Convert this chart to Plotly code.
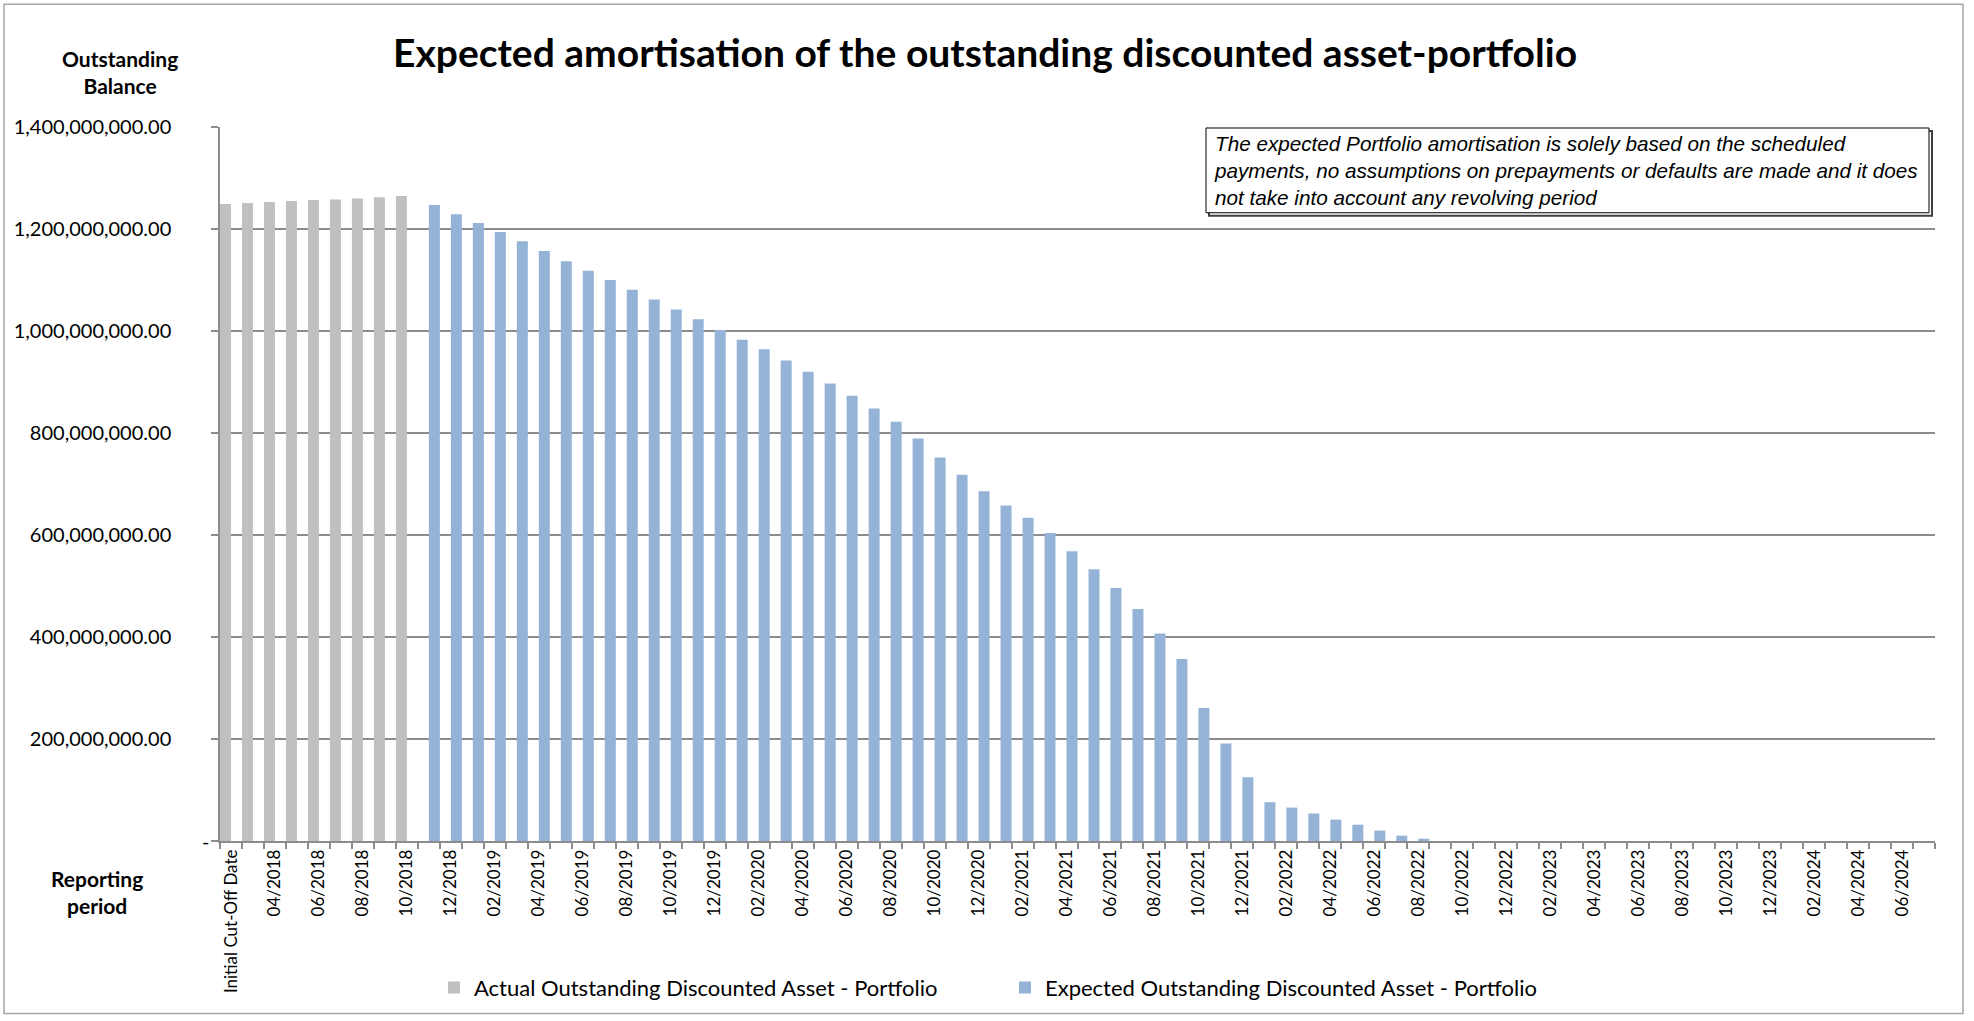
import plotly.graph_objects as go

categories = [
    "Initial Cut-Off Date", "03/2018", "04/2018", "05/2018", "06/2018", "07/2018", "08/2018", "09/2018", "10/2018",
    "11/2018", "12/2018",
    "01/2019", "02/2019", "03/2019", "04/2019", "05/2019", "06/2019", "07/2019", "08/2019", "09/2019", "10/2019", "11/2019", "12/2019",
    "01/2020", "02/2020", "03/2020", "04/2020", "05/2020", "06/2020", "07/2020", "08/2020", "09/2020", "10/2020", "11/2020", "12/2020",
    "01/2021", "02/2021", "03/2021", "04/2021", "05/2021", "06/2021", "07/2021", "08/2021", "09/2021", "10/2021", "11/2021", "12/2021",
    "01/2022", "02/2022", "03/2022", "04/2022", "05/2022", "06/2022", "07/2022", "08/2022", "09/2022", "10/2022", "11/2022", "12/2022",
    "01/2023", "02/2023", "03/2023", "04/2023", "05/2023", "06/2023", "07/2023", "08/2023", "09/2023", "10/2023", "11/2023", "12/2023",
    "01/2024", "02/2024", "03/2024", "04/2024", "05/2024", "06/2024", "07/2024",
]

actual_periods = categories[:9]
actual_values = [1248900000, 1250800000, 1252800000, 1254700000, 1256700000,
                 1258000000, 1260000000, 1262500000, 1264500000]

expected_periods = categories[9:]
expected_values = [
    1247000000, 1229000000,
    1212000000, 1194000000, 1176000000, 1157000000, 1137000000, 1118000000,
    1100000000, 1081000000, 1062000000, 1042000000, 1023000000, 1002000000,
    983000000, 964000000, 942000000, 920000000, 897000000, 873000000,
    848000000, 822000000, 789000000, 752000000, 718000000, 686000000,
    658000000, 634000000, 604000000, 568000000, 533000000, 496000000,
    455000000, 407000000, 357000000, 261000000, 191000000, 125000000,
    76000000, 65500000, 54000000, 42000000, 32000000, 20500000,
    10500000, 4500000, 0, 0, 0, 0,
    0, 0, 0, 0, 0, 0, 0, 0, 0, 0, 0, 0,
    0, 0, 0, 0, 0, 0, 0,
]

y_tickvals = [0, 200000000, 400000000, 600000000, 800000000, 1000000000, 1200000000, 1400000000]
y_ticktext = ["", "200,000,000.00", "400,000,000.00", "600,000,000.00", "800,000,000.00",
              "1,000,000,000.00", "1,200,000,000.00", "1,400,000,000.00"]

x_ticktext = [c if i % 2 == 0 else "" for i, c in enumerate(categories)]

W, H = 1974, 1021
L, R, T, B = 220, 1935, 127, 843
PW, PH = R - L, B - T


def px(xp):
    return (xp - L) / PW


def py(yp):
    return (B - yp) / PH


FONT = "Lato"
GRID = "#8c8c8c"

fig = go.Figure()
fig.add_trace(go.Bar(
    x=actual_periods, y=actual_values,
    name="Actual Outstanding Discounted Asset - Portfolio",
    width=0.5, offset=-0.5,
    marker=dict(color="#C0C0C0", line=dict(width=0)),
))
fig.add_trace(go.Bar(
    x=expected_periods, y=expected_values,
    name="Expected Outstanding Discounted Asset - Portfolio",
    width=0.5, offset=0,
    marker=dict(color="#95B3D7", line=dict(width=0)),
))

fig.update_layout(
    width=W, height=H,
    margin=dict(l=L, r=W - R, t=T, b=H - B, pad=0),
    paper_bgcolor="white", plot_bgcolor="white",
    barmode="overlay",
    font=dict(family=FONT, size=20, color="black"),
    title=dict(text="<b>Expected amortisation of the outstanding discounted asset-portfolio</b>",
               x=px(985), xanchor="center", xref="paper", y=1 - 53 / H, yanchor="middle",
               font=dict(family=FONT, size=39, color="black")),
    legend=dict(orientation="h", x=px(434), xanchor="left", y=py(990), yanchor="middle",
                font=dict(family=FONT, size=22), entrywidth=526, entrywidthmode="pixels",
                traceorder="normal", bgcolor="rgba(0,0,0,0)"),
    xaxis=dict(type="category", categoryorder="array", categoryarray=categories,
               tickmode="array", tickvals=categories, ticktext=x_ticktext,
               tickson="boundaries", ticks="outside", ticklen=6, tickwidth=1.5, tickcolor=GRID,
               tickangle=-90, tickfont=dict(family=FONT, size=17),
               showline=True, linecolor=GRID, linewidth=1.5, showgrid=False,
               range=[-0.5, len(categories) - 0.5]),
    yaxis=dict(range=[0, 1400000000], tickmode="array", tickvals=y_tickvals, ticktext=y_ticktext,
               ticks="outside", ticklen=7, tickwidth=1.5, tickcolor=GRID,
               showgrid=True, gridcolor=GRID, gridwidth=1.5,
               showline=True, linecolor=GRID, linewidth=1.5, zeroline=False,
               tickfont=dict(family=FONT, size=20), ticklabelstandoff=36),
)

# outer chart border
fig.add_shape(type="rect", xref="paper", yref="paper",
              x0=px(4), x1=px(1963), y0=py(1016), y1=py(4),
              line=dict(color="#a6a6a6", width=1.5), fillcolor="rgba(0,0,0,0)", layer="below")

# note box (with slight shadow)
fig.add_shape(type="rect", xref="paper", yref="paper",
              x0=px(1209), x1=px(1932), y0=py(216), y1=py(131),
              line=dict(color="#404040", width=2), fillcolor="rgba(0,0,0,0)", layer="above")
fig.add_shape(type="rect", xref="paper", yref="paper",
              x0=px(1206), x1=px(1929), y0=py(213), y1=py(128),
              line=dict(color="black", width=1), fillcolor="white", layer="above")
fig.add_annotation(xref="paper", yref="paper", x=px(1212), y=py(171), xanchor="left", yanchor="middle",
                   align="left", showarrow=False,
                   text="<i>The expected Portfolio amortisation is solely based on the scheduled<br>"
                        "payments, no assumptions on prepayments or defaults are made and it does<br>"
                        "not take into account any revolving period</i>",
                   font=dict(family="Liberation Sans", size=20.7, color="black"))

# axis titles
fig.add_annotation(xref="paper", yref="paper", x=px(120), y=py(72), xanchor="center", yanchor="middle",
                   showarrow=False, text="<b>Outstanding<br>Balance</b>",
                   font=dict(family=FONT, size=21, color="black"))
fig.add_annotation(xref="paper", yref="paper", x=px(97), y=py(894), xanchor="center", yanchor="middle",
                   showarrow=False, text="<b>Reporting<br>period</b>",
                   font=dict(family=FONT, size=21, color="black"))
# zero label
fig.add_annotation(xref="paper", yref="paper", x=px(205), y=0, xanchor="center", yanchor="middle",
                   showarrow=False, text="-", font=dict(family=FONT, size=20, color="black"))

fig.write_html("out.html", config={"displayModeBar": False},
               post_script="document.body.style.margin='0';")
